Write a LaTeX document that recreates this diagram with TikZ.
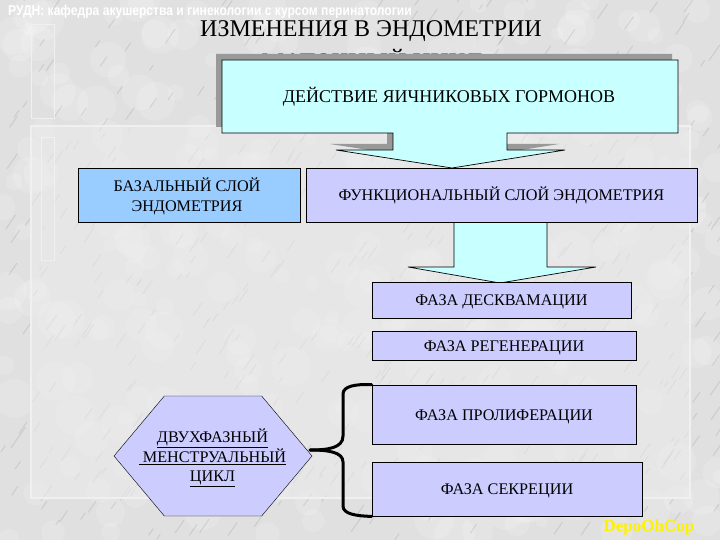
\documentclass[tikz,border=0pt]{standalone}
\usepackage{fontspec}
\setmainfont{Liberation Serif}
\newfontfamily\headfont{Liberation Sans}
\usetikzlibrary{shapes.geometric, shapes.symbols, positioning, calc}
\definecolor{marble}{HTML}{E0E0E0}
\definecolor{panel}{HTML}{ECECEC}
\definecolor{lavender}{HTML}{CCCCFF}
\definecolor{paleblue}{HTML}{99CCFF}
\definecolor{palecyan}{HTML}{C8FFFF}
\tikzset{
  phase/.style={draw=black, fill=lavender, thick, inner sep=0pt, align=center, text height=11.5pt, text depth=0pt, font=\fontsize{16.2}{19}\selectfont},
  frameline/.style={draw=white!94!black, line width=1.1pt},
  blockarrow/.style={draw=black, fill=palecyan, line width=0.7pt}
}
\begin{document}
\begin{tikzpicture}[x=1pt,y=-1pt]
  \useasboundingbox (0,0) rectangle (720,540);
  \begin{scope}
    \clip (0,0) rectangle (720,540);
    \fill[marble] (0,0) rectangle (720,540);
    % marble blotches and veins
    \pgfmathsetseed{41}
    \foreach \i in {1,...,300} {
      \pgfmathsetmacro{\vx}{rnd*720}
      \pgfmathsetmacro{\vy}{rnd*540}
      \fill[white, opacity=0.16] (\vx,\vy) circle (6+rnd*14);
    }
    \foreach \i in {1,...,500} {
      \pgfmathsetmacro{\vx}{rnd*720}
      \pgfmathsetmacro{\vy}{rnd*540}
      \pgfmathsetmacro{\vl}{5+rnd*14}
      \draw[black, opacity=0.09, line width=1pt, line cap=round] (\vx,\vy) -- ++(\vl*0.55,-\vl*0.8);
    }
    % pale panels of the slide layout
    \fill[panel, opacity=0.55] (31,126) rectangle (690,498);
    \draw[frameline] (31,498) -- (31,126) -- (690,126) -- (690,498) -- cycle;
    \draw[frameline, line width=0.8pt] (31,24) rectangle (54,118);
    \draw[frameline, line width=0.8pt] (41,137) rectangle (54,260);
  \end{scope}

  \node[white, anchor=west, inner sep=0pt] (head) at (8,12) {\headfont\bfseries\fontsize{13}{15}\selectfont\scalebox{0.93}[1.1]{РУДН: кафедра акушерства и гинекологии с курсом перинатологии}};
  \node[font=\fontsize{24}{28}\selectfont, inner sep=0pt] (title) at (371,31) {ИЗМЕНЕНИЯ В ЭНДОМЕТРИИ};
  \node[font=\fontsize{25}{28}\selectfont, inner sep=0pt, anchor=north] (cycle) at (372,49) {МАТОЧНЫЙ ЦИКЛ};

  % hormone box with its arrow
  \fill[black!40] (216,54) -- (672,54) -- (672,127) -- (501,127) -- (501,144) -- (559,144) -- (446,162) -- (330,144) -- (387,144) -- (387,127) -- (216,127) -- cycle;
  \draw[blockarrow] (222,60) -- (678,60) -- (678,133) -- (507,133) -- (507,150) -- (565,150) -- (452,168) -- (336,150) -- (393,150) -- (393,133) -- (222,133) -- cycle;
  \node[font=\fontsize{18}{20}\selectfont, inner sep=0pt] (hormones) at (449,97) {ДЕЙСТВИЕ ЯИЧНИКОВЫХ ГОРМОНОВ};

  % arrow down to the phases
  \draw[blockarrow] (454,222) -- (454,267) -- (408,267) -- (500,283) -- (596,267) -- (547,267) -- (547,222);

  \node[phase, fill=paleblue, minimum width=222pt, minimum height=54pt] (basal) at (189,195) {};
  \node[font=\fontsize{16.2}{19.5}\selectfont, inner sep=0pt, align=center] (basaltext) at (187,196.5) {БАЗАЛЬНЫЙ СЛОЙ\\ЭНДОМЕТРИЯ};
  \node[phase, minimum width=391pt, minimum height=54pt] (func) at (501.5,195) {ФУНКЦИОНАЛЬНЫЙ СЛОЙ ЭНДОМЕТРИЯ};
  \node[phase, minimum width=259pt, minimum height=36pt] (desq) at (501.5,300) {ФАЗА ДЕСКВАМАЦИИ};
  \node[phase, minimum width=264pt, minimum height=29pt] (regen) at (504,345.5) {ФАЗА РЕГЕНЕРАЦИИ};
  \node[phase, minimum width=264pt, minimum height=59pt] (prolif) at (504,414.5) {ФАЗА ПРОЛИФЕРАЦИИ};
  \node[phase, minimum width=270pt, minimum height=54pt] (secr) at (507,489) {ФАЗА СЕКРЕЦИИ};

  \node[phase, thin, text height=, text depth=, shape=signal, signal to=east and west, signal pointer angle=100, minimum width=198pt, minimum height=120pt] (cyclehex) at (213,456) {};
  \node[font=\fontsize{16.2}{19.5}\selectfont, inner sep=0pt, align=center] (hextext) at (212.5,458) {\underline{ДВУХФАЗНЫЙ}\\\underline{\ МЕНСТРУАЛЬНЫЙ}\\\underline{ЦИКЛ}};

  % brace from the hexagon to the two phases
  \coordinate (bracetip) at (310,450);
  \draw[black, line width=3pt, line cap=round] (prolif.north west) .. controls (356,384) and (343,386) .. (343,394) -- (343,436) .. controls (343,448) and (328,450) .. (bracetip);
  \draw[black, line width=3pt, line cap=round] (secr.south west) .. controls (356,516) and (343,514) .. (343,506) -- (343,462) .. controls (343,452) and (328,450) .. (bracetip);

  \node[yellow, font=\bfseries\fontsize{17}{19}\selectfont, inner sep=0pt] (mark) at (649,527) {DepoOhCop};
\end{tikzpicture}
\end{document}
